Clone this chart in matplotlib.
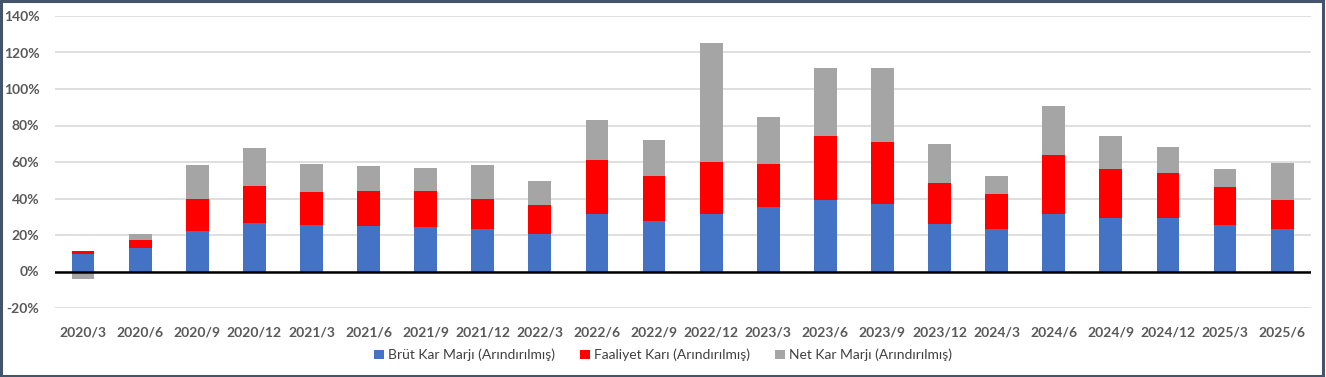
import numpy as np
import matplotlib.pyplot as plt
from matplotlib.patches import Rectangle

plt.rcParams['font.family'] = ['Lato', 'DejaVu Sans']

periods = ['2020/3', '2020/6', '2020/9', '2020/12', '2021/3', '2021/6', '2021/9', '2021/12',
           '2022/3', '2022/6', '2022/9', '2022/12', '2023/3', '2023/6', '2023/9', '2023/12',
           '2024/3', '2024/6', '2024/9', '2024/12', '2025/3', '2025/6']

brut = [9.7, 12.8, 22.4, 26.8, 25.7, 25.1, 24.4, 23.3, 20.7, 31.7, 27.5, 31.7,
        35.2, 39.4, 37.2, 26.2, 23.3, 31.6, 29.5, 29.4, 25.7, 23.3]
faaliyet = [1.7, 4.6, 17.4, 20.2, 17.8, 18.8, 19.6, 16.5, 15.6, 29.6, 24.8, 28.5,
            23.9, 35.1, 34.0, 22.2, 19.1, 32.3, 26.5, 24.4, 20.5, 16.1]
net = [-3.9, 3.3, 18.7, 20.5, 15.6, 13.9, 12.9, 18.7, 13.2, 21.6, 19.8, 65.1,
       25.3, 37.1, 40.4, 21.7, 9.7, 26.6, 18.3, 14.5, 9.8, 20.0]

labels = ['Brüt Kar Marjı (Arındırılmış)', 'Faaliyet Karı (Arındırılmış)',
          'Net Kar Marjı (Arındırılmış)']
colors = ['#4472C4', '#FF0000', '#A5A5A5']

x = np.arange(len(periods))
brut = np.array(brut)
faaliyet = np.array(faaliyet)
net = np.array(net)

fig = plt.figure(figsize=(13.26, 3.77), dpi=100)
ax = fig.add_axes([54.5 / 1326, 1 - 308 / 377, (1310.7 - 54.5) / 1326, (308 - 16) / 377])

w = 0.4
ax.bar(x, brut, w, color=colors[0], label=labels[0], zorder=3)
ax.bar(x, faaliyet, w, bottom=brut, color=colors[1], label=labels[1], zorder=3)
# negative net margin is drawn down from zero, like Excel does
net_bottom = np.where(net >= 0, brut + faaliyet, 0)
ax.bar(x, net, w, bottom=net_bottom, color=colors[2], label=labels[2], zorder=3)

ax.set_xlim(-0.5, len(periods) - 0.5)
ax.set_ylim(-20, 140)
ax.set_yticks(np.arange(-20, 141, 20))
ax.set_yticklabels(['%d%%' % v for v in np.arange(-20, 141, 20)])
ax.set_xticks(x)
ax.set_xticklabels(periods)

ax.grid(axis='y', color='#D9D9D9', linewidth=1.2, zorder=0)
ax.axhline(0, color='black', linewidth=1.8, zorder=4)
for s in ax.spines.values():
    s.set_visible(False)
ax.tick_params(length=0)
ax.tick_params(axis='y', pad=11)
ax.tick_params(axis='x', pad=13)
for t in ax.get_xticklabels() + ax.get_yticklabels():
    t.set_fontsize(10)
    t.set_fontweight('bold')
    t.set_color('#595959')

leg = fig.legend(loc='center', bbox_to_anchor=(0.5, 1 - 355 / 377), ncol=3, frameon=False,
                 fontsize=10, handlelength=0.7, handleheight=0.7, handletextpad=0.3,
                 columnspacing=1.8)
for t in leg.get_texts():
    t.set_color('#404040')

fig.patches.append(Rectangle((0.001, 0.002), 0.997, 0.995, transform=fig.transFigure,
                             fill=False, edgecolor='#44546A', linewidth=2.2))

fig.savefig('out.png', dpi=100)
